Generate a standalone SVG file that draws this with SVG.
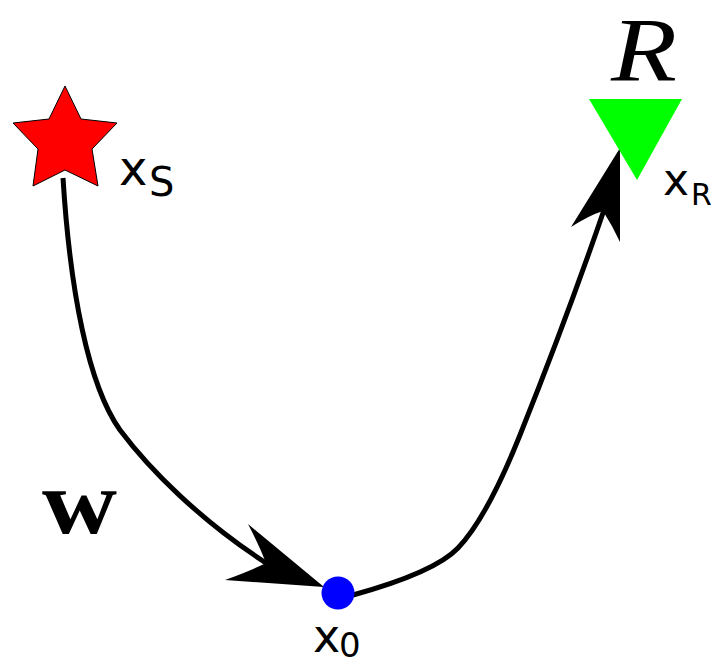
<svg xmlns="http://www.w3.org/2000/svg" width="716" height="664" viewBox="0 0 716 664">
<style>
.lbl{font-family:"DejaVu Sans",sans-serif;fill:#000}
.curve{fill:none;stroke:#000;stroke-width:5}
.head{fill:#000;stroke:none}
</style>
<rect width="716" height="664" fill="#fff"/>
<g id="connectors">
<path class="curve" d="M63,178 C70,290 88,385 120,430 C150,470 200,520 266,563"/>
<path class="head" d="M324,587 L225,580 Q250,571 266,563 Q259,545 248,524 Z"/>
<path class="curve" d="M353,595 C400,582 440,567 458,548 C480,525 500,485 520,435 C550,360 580,280 604,210"/>
<path class="head" d="M620,148 L571,227 Q590,215 603,211 Q612,225 620,242 Z"/>
</g>
<g id="source">
<polygon points="65,86 81,119 117,123 92,149 98,186 65,170 33,186 38,149 13,123 49,119" fill="#ff0000" stroke="#000" stroke-width="1"/>
<text class="lbl" x="119" y="185" font-size="48">x<tspan font-size="40" x="149" y="196">S</tspan></text>
</g>
<g id="receiver">
<polygon points="589,99 682,99 637,180" fill="#00ff00"/>
<text x="611" y="81" font-family="Liberation Serif,serif" font-style="italic" font-size="90" textLength="66" lengthAdjust="spacingAndGlyphs">R</text>
<text class="lbl" x="663" y="195" font-size="44">x<tspan font-size="30" x="691" y="205">R</tspan></text>
</g>
<g id="x0">
<circle cx="338" cy="593" r="16.5" fill="#0000ff"/>
<text class="lbl" x="313" y="652" font-size="46">x<tspan font-size="34" x="339" y="657">0</tspan></text>
</g>
<g id="w-label">
<text x="42" y="533" font-family="Liberation Serif,serif" font-weight="bold" font-size="92" textLength="75" lengthAdjust="spacingAndGlyphs">w</text>
</g>
</svg>
